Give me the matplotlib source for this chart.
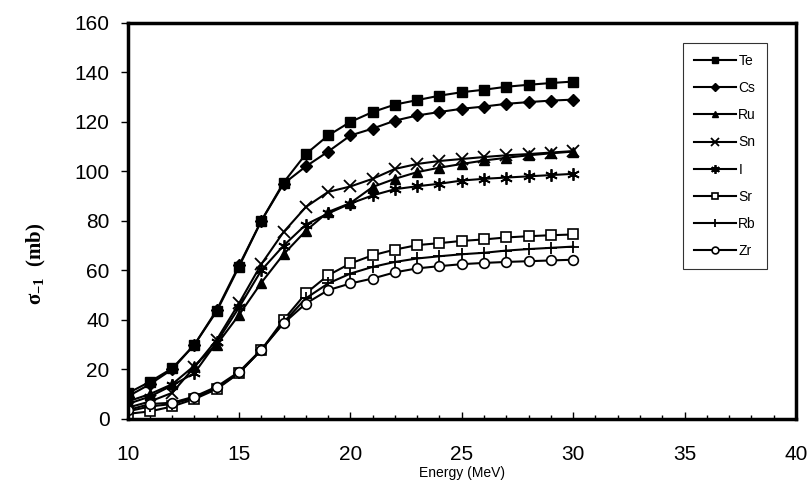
import numpy as np
import matplotlib
matplotlib.use("Agg")
import matplotlib.pyplot as plt
from matplotlib.ticker import MultipleLocator

plt.rcParams['font.family'] = ['Liberation Sans', 'DejaVu Sans']
plt.rcParams['mathtext.fontset'] = 'custom'
plt.rcParams['mathtext.bf'] = 'Liberation Serif:bold'
plt.rcParams['mathtext.rm'] = 'Liberation Serif:bold'
plt.rcParams['mathtext.default'] = 'bf'

# energies (MeV)
energy = list(range(10, 31))

te = [10.3, 15, 20.4, 30, 43.5, 61.5, 80, 95.5, 107, 114.5, 120, 124, 127, 128.8, 130.6, 132, 133, 134.2, 135, 135.7, 136.3]
cs = [9, 14, 20, 30, 44, 62, 80, 95, 102, 108, 114.5, 117.3, 120.5, 122.6, 124, 125.3, 126.2, 127.3, 128, 128.6, 129]
ru = [7, 10, 14, 21.5, 30, 42, 55, 66.5, 76, 83.6, 87.2, 93.7, 97, 99.7, 101.5, 103, 104.4, 105.5, 106.5, 107.3, 108]
sn = [4.5, 7, 10.5, 21, 32, 46.7, 62.5, 75.5, 85.6, 91.7, 93.9, 97, 101, 103, 104.2, 105, 105.8, 106.5, 107, 107.6, 108.2]
iod = [6, 9, 13.5, 18.5, 31, 45, 60, 70, 78.5, 83, 87, 90.3, 92.8, 94, 95, 96.3, 97, 97.5, 98, 98.5, 99]
sr = [2, 3, 5, 8, 12, 18.5, 27.8, 40, 50.7, 58, 62.8, 66.1, 68.4, 70.2, 71, 71.9, 72.5, 73.3, 73.8, 74.2, 74.5]
rb = [3, 5, 6, 8.5, 12.5, 18.5, 27.8, 39, 48.7, 54.7, 58.7, 61.4, 63.4, 64.8, 65.7, 66.5, 67.1, 68, 68.6, 69.1, 69.6]
zr = [3.5, 6, 6.5, 9, 13, 19, 28, 38.6, 46.6, 52, 54.7, 56.7, 59.2, 60.8, 61.7, 62.5, 63, 63.4, 63.7, 64, 64.3]

fig = plt.figure(figsize=(8.08, 4.98), dpi=100)
ax = fig.add_axes([0.158, 0.159, 0.827, 0.795])

ax.plot(energy, te, color='black', lw=1.5, marker='s', ms=7, mfc='black', label='Te')
ax.plot(energy, cs, color='black', lw=1.5, marker='D', ms=6, mfc='black', label='Cs')
ax.plot(energy, ru, color='black', lw=1.5, marker='^', ms=7, mfc='black', label='Ru')
ax.plot(energy, sn, color='black', lw=1.5, marker='x', ms=8, mew=1.3, label='Sn')
ax.plot(energy, iod, color='black', lw=1.5, marker=(6, 2, 0), ms=9, mew=1.3, label='I')
ax.plot(energy, sr, color='black', lw=1.5, marker='s', ms=7, mfc='white', mew=1.2, label='Sr')
ax.plot(energy, rb, color='black', lw=1.5, marker='+', ms=9, mew=1.3, label='Rb')
ax.plot(energy, zr, color='black', lw=1.5, marker='o', ms=7, mfc='white', mew=1.2, label='Zr')

ax.set_xlim(10, 40)
ax.set_ylim(0, 160)
ax.xaxis.set_major_locator(MultipleLocator(5))
ax.xaxis.set_minor_locator(MultipleLocator(1))
ax.yaxis.set_major_locator(MultipleLocator(20))

for s in ax.spines.values():
    s.set_linewidth(2.5)

ax.tick_params(axis='x', which='major', direction='in', length=5, width=1, labelsize=15, pad=19)
ax.tick_params(axis='x', which='minor', direction='in', length=3, width=1)
ax.tick_params(axis='y', which='major', direction='out', length=5, width=1, labelsize=15, pad=8)

ax.set_xlabel('Energy (MeV)', fontsize=10, labelpad=1)
fig.text(0.045, 0.47, r'σ$_{-1}$  (mb)', rotation=90, fontsize=15,
         family='Liberation Serif', fontweight='bold', ha='center', va='center')

leg = ax.legend(loc='upper right', bbox_to_anchor=(0.957, 0.95), fontsize=10,
                frameon=True, fancybox=False, edgecolor='black', markerscale=0.7,
                handlelength=3.0, handletextpad=0.2, labelspacing=0.95,
                borderpad=0.8, borderaxespad=0)
leg.get_frame().set_linewidth(0.8)

fig.savefig('out.png', dpi=100)
